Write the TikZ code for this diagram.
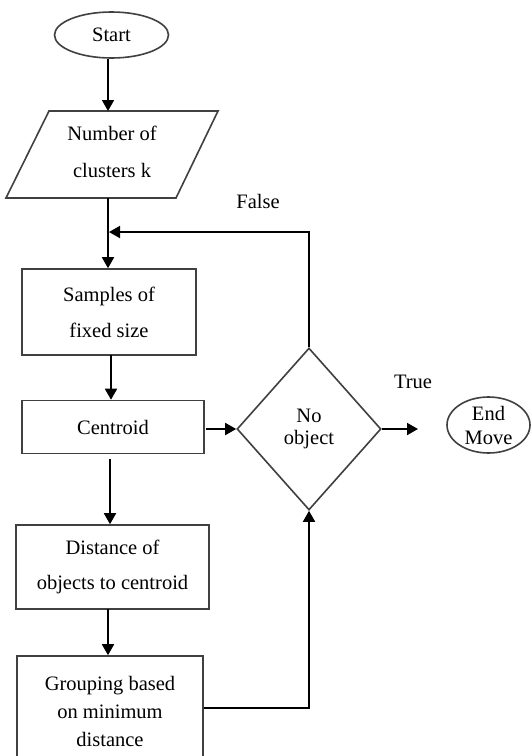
\documentclass[tikz,border=0pt]{standalone}
\usepackage{fontspec}
\setmainfont{Liberation Serif}
\usetikzlibrary{shapes.geometric,arrows.meta,calc}
\begin{document}
\begin{tikzpicture}[x=1pt,y=-1pt,
  shapeline/.style={draw=black!75, line width=1.6pt},
  boxnode/.style={shapeline, rectangle, inner sep=0pt, align=center},
  txt/.style={font=\fontsize{20.5}{24}\selectfont},
  arr/.style={draw=black, line width=1.8pt, -{Triangle[length=11pt,width=12pt]}}]
\useasboundingbox (0,0) rectangle (531,756);
\fill[white] (0,0) rectangle (531,756);

% Start
\node[shapeline, ellipse, minimum width=114pt, minimum height=46pt, inner sep=0pt, txt] (start) at (111.5,35) {Start};

% Parallelogram (input)
\draw[shapeline] (49,111) -- (218,111) -- (176,198) -- (6,198) -- cycle;
\coordinate (numtop) at (108,111);
\coordinate (numbot) at (108,198);
\node[align=center, font=\fontsize{20.5}{37}\selectfont] (num) at (112,152) {Number of\\clusters k};

% Samples
\node[boxnode, minimum width=174pt, minimum height=86pt, font=\fontsize{20.5}{36}\selectfont] (samples) at (109,312) {Samples of\\fixed size};

% Centroid
\node[boxnode, minimum width=182pt, minimum height=53pt, txt] (centroid) at (113,427) {Centroid};

% Distance
\node[boxnode, minimum width=193pt, minimum height=84pt, font=\fontsize{20.5}{35}\selectfont] (distance) at (112.5,567) {Distance of\\objects to centroid};

% Grouping
\node[boxnode, minimum width=186pt, minimum height=110pt, font=\fontsize{20.5}{28}\selectfont] (grouping) at (110,711) {Grouping based\\on minimum\\distance};

% Decision
\node[shapeline, diamond, minimum width=144pt, minimum height=162pt, inner sep=0pt, align=center, font=\fontsize{20.5}{22}\selectfont] (dec) at (309,429) {No\\object};

% End
\node[shapeline, ellipse, minimum width=83pt, minimum height=56pt, inner sep=0pt, align=center, font=\fontsize{20.5}{24}\selectfont] (endmove) at (488.5,425) {End\\Move};

% Labels
\node[txt] (falselbl) at (258,201) {False};
\node[txt] (truelbl) at (413,382) {True};

% Connectors
\coordinate (join) at (109,232);
\coordinate (tend) at (418,429);
\coordinate (c1) at (111,355);
\coordinate (c2) at (110,459);
\coordinate (c3) at (108,609);
\draw[arr] (start.south -| numtop) -- (numtop);
\draw[arr] (numbot) -- (numbot |- samples.north);
\draw[arr] (dec.north) |- (join);
\draw[arr] (c1) -- (c1 |- centroid.north);
\draw[arr] ([xshift=1pt]centroid.east |- dec.west) -- (dec.west);
\draw[arr] (dec.east) -- (tend);
\draw[arr] (c2) -- (c2 |- distance.north);
\draw[arr] (c3) -- (c3 |- grouping.north);
\draw[arr] ([yshift=3pt]grouping.east) -| (dec.south);
\end{tikzpicture}
\end{document}
